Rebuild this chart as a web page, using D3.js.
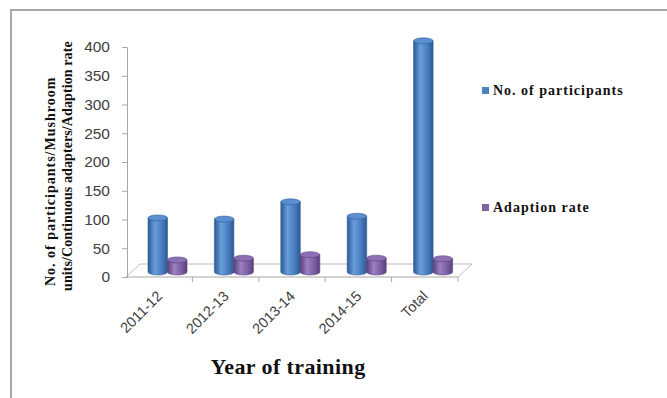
<!DOCTYPE html>
<html>
<head>
<meta charset="utf-8">
<script src="https://cdn.jsdelivr.net/npm/d3@7"></script>
<style>
  body { margin: 0; background: #fff; }
  svg { display: block; }
</style>
</head>
<body>
<svg id="chart" width="667" height="398"></svg>
<script>
// data
const years = ["2011-12", "2012-13", "2013-14", "2014-15", "Total"];
const seriesNames = ["No. of participants", "Adaption rate"];
const participants = [94, 92, 122, 97, 402];
const adaption = [21, 24, 30, 24, 23];
const yTicks = [0, 50, 100, 150, 200, 250, 300, 350, 400];

const svg = d3.select("#chart");

// frame
svg.append("path")
    .attr("d", "M11,398 V10 H667")
    .attr("fill", "none")
    .attr("stroke", "#a8a8a8")
    .attr("stroke-width", 2);

const x0 = 126, x1 = 458, yBase = 277;
const depth = {dx: 14, dy: -13};

const xScale = d3.scaleBand().domain(years).range([x0, x1]);
const xSub = d3.scaleBand().domain(seriesNames).range([22, 61]);
const yScale = d3.scaleLinear().domain([0, 400]).range([yBase, 47]);

const axisColor = "#a6a6a6";

// floor
svg.append("path")
    .attr("d", `M${x0},${yBase} L${x0 + depth.dx},${yBase + depth.dy} L${x1 + depth.dx},${yBase + depth.dy} L${x1},${yBase}`)
    .attr("fill", "none")
    .attr("stroke", "#bdbdbd")
    .attr("stroke-width", 1);

// y axis
const yAxis = svg.append("g")
    .attr("transform", `translate(${x0 + 1},0)`)
    .call(d3.axisLeft(yScale).tickValues(yTicks).tickSize(5).tickPadding(12));
yAxis.select(".domain").attr("stroke", axisColor);
yAxis.selectAll(".tick line").attr("stroke", axisColor);
yAxis.selectAll(".tick text")
    .attr("fill", "#404040")
    .style("font-family", "Liberation Sans, Arial, sans-serif")
    .style("font-size", "15.5px");

// x axis (front edge of floor)
const xAxis = svg.append("g")
    .attr("transform", `translate(0,${yBase})`)
    .call(d3.axisBottom(xScale).tickSize(0).tickFormat(""));
xAxis.select(".domain").attr("stroke", axisColor).attr("d", `M${x0},0H${x1}`);
svg.append("g").selectAll("line")
    .data(years)
    .join("line")
    .attr("x1", d => xScale(d) + xScale.bandwidth())
    .attr("x2", d => xScale(d) + xScale.bandwidth())
    .attr("y1", yBase)
    .attr("y2", yBase + 5)
    .attr("stroke", axisColor);

svg.append("g").selectAll("text")
    .data(years)
    .join("text")
    .attr("transform", d => `translate(${xScale(d) + xScale.bandwidth() / 2 + 4},${yBase + 20}) rotate(-45)`)
    .attr("text-anchor", "end")
    .attr("fill", "#404040")
    .style("font-family", "Liberation Sans, Arial, sans-serif")
    .style("font-size", "14.5px")
    .text(d => d);

// cylinder gradients
const defs = svg.append("defs");
function grad(id, edge, mid, light) {
    const g = defs.append("linearGradient").attr("id", id)
        .attr("x1", "0%").attr("x2", "100%").attr("y1", "0%").attr("y2", "0%");
    g.append("stop").attr("offset", "0%").attr("stop-color", edge);
    g.append("stop").attr("offset", "35%").attr("stop-color", light);
    g.append("stop").attr("offset", "70%").attr("stop-color", mid);
    g.append("stop").attr("offset", "100%").attr("stop-color", edge);
}
grad("gBlue", "#2c5a94", "#4a7ec0", "#6a9ddb");
grad("gPurple", "#5a3f7c", "#7d5fa3", "#9b80c2");

const colors = {
    "No. of participants": {fill: "url(#gBlue)", top: "#5b8fd0", stroke: "#2f5e98", key: "#4f81bd"},
    "Adaption rate": {fill: "url(#gPurple)", top: "#8c6fb2", stroke: "#5b4180", key: "#8064a2"}
};

const bars = [];
years.forEach((y, i) => {
    bars.push({year: y, s: seriesNames[0], v: participants[i]});
    bars.push({year: y, s: seriesNames[1], v: adaption[i]});
});

const off = 5; // bars sit in middle of floor depth
const rx = xSub.bandwidth() / 2, ry = 3;

const barG = svg.append("g").selectAll("g")
    .data(bars)
    .join("g");

barG.append("path")
    .attr("d", d => {
        const l = xScale(d.year) + xSub(d.s);
        const r = l + xSub.bandwidth();
        const top = yScale(d.v) - off;
        const bot = yScale(0) - off;
        return `M${l},${top} L${l},${bot} A${rx},${ry} 0 0 0 ${r},${bot} L${r},${top} Z`;
    })
    .attr("fill", d => colors[d.s].fill)
    .attr("stroke", d => colors[d.s].stroke)
    .attr("stroke-width", 0.6);

barG.append("ellipse")
    .attr("cx", d => xScale(d.year) + xSub(d.s) + rx)
    .attr("cy", d => yScale(d.v) - off)
    .attr("rx", rx)
    .attr("ry", ry)
    .attr("fill", d => colors[d.s].top)
    .attr("stroke", d => colors[d.s].stroke)
    .attr("stroke-width", 0.6);

// y axis title
const yTitle = svg.append("text")
    .attr("transform", "rotate(-90)")
    .style("font-family", "Liberation Serif, Times New Roman, serif")
    .style("font-weight", "bold")
    .style("font-size", "14px")
    .attr("fill", "#111");
yTitle.append("tspan").attr("x", -286).attr("y", 55)
    .style("letter-spacing", "1px").text("No. of participants/Mushroom");
yTitle.append("tspan").attr("x", -291).attr("y", 72)
    .style("letter-spacing", "0.1px").text("units/Continuous adapters/Adaption rate");

// x axis title
svg.append("text")
    .attr("x", 288)
    .attr("y", 374)
    .attr("text-anchor", "middle")
    .style("font-family", "Liberation Serif, Times New Roman, serif")
    .style("font-weight", "bold")
    .style("font-size", "22px")
    .style("letter-spacing", "0.4px")
    .attr("fill", "#111")
    .text("Year of training");

// legend
const legendY = [90, 207];
const legend = svg.append("g").selectAll("g")
    .data(seriesNames)
    .join("g")
    .attr("transform", (d, i) => `translate(482,${legendY[i]})`);
legend.append("rect")
    .attr("x", 0).attr("y", -3).attr("width", 7).attr("height", 7)
    .attr("fill", d => colors[d].key);
legend.append("text")
    .attr("x", 11).attr("y", 5)
    .style("font-family", "Liberation Serif, Times New Roman, serif")
    .style("font-weight", "bold")
    .style("font-size", "14px")
    .style("letter-spacing", "1px")
    .attr("fill", "#111")
    .text(d => d);
</script>
</body>
</html>
